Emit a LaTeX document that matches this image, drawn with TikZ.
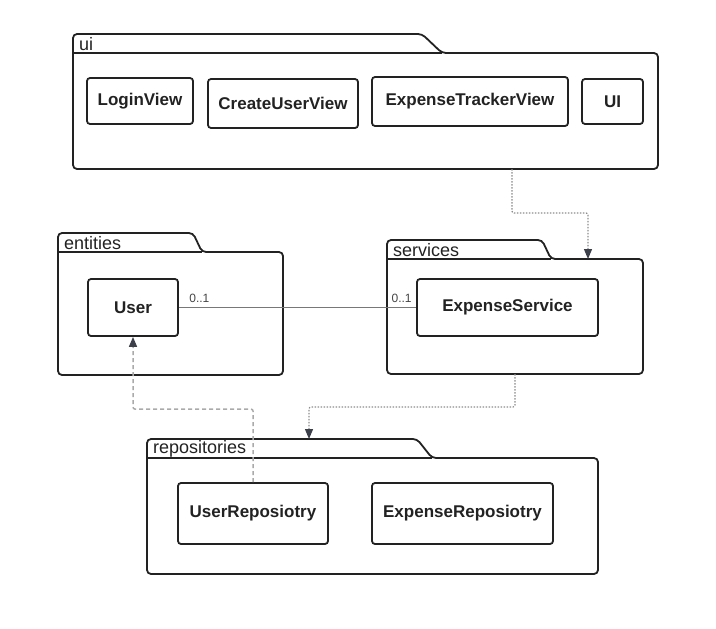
\documentclass[tikz,border=0pt]{standalone}
\usepackage{fontspec}
\setmainfont{Liberation Sans}
\usetikzlibrary{arrows.meta}

% Drawing a package: name, left, tab top, slope start, slope end, body top, right, bottom
\newcommand{\drawpackage}[8]{%
  \draw [pkgline] (#2,#6) -- (#2,#3) -- (#4,#3) -- (#5,#6) -- (#7,#6) -- (#7,#8) -- (#2,#8) -- cycle;%
  \draw [tabline] (#2,#6) -- (#5,#6);%
  \node [pkglabel] (#1-label) at (#2+6,{(#3+#6)/2+0.5}) {#1};%
}

\tikzset{
  classbox/.style={draw=r34g34b34, line width=1.8pt, rounded corners=3pt, inner sep=0pt,
    text=r34g34b34, font=\fontsize{17}{20}\selectfont\bfseries},
  pkgline/.style={draw=r34g34b34, line width=1.8pt, rounded corners=4pt},
  tabline/.style={draw=r34g34b34, line width=1.2pt},
  pkglabel/.style={anchor=west, inner sep=0pt, text=r34g34b34, font=\fontsize{18}{20}\selectfont},
  multlabel/.style={inner sep=0pt, text=r68g68b68, font=\fontsize{12}{14}\selectfont},
  assoc/.style={draw=r120g120b120, line width=0.9pt},
  dep/.style={draw=r140g140b140, line width=1.2pt, dash pattern=on 1.5pt off 1.5pt,
    rounded corners=2pt, -{Triangle[width=8pt,length=10pt,color=r59g64b75]}},
  depuse/.style={draw=r170g170b170, line width=1.5pt, dash pattern=on 4pt off 3pt,
    rounded corners=2pt, -{Triangle[width=8pt,length=10pt,color=r59g64b75]}}
}

\begin{document}
\begin{tikzpicture}[x=1pt,y=-1pt]
  % Changing colors
  \definecolor{r34g34b34}{rgb}{0.133333,0.133333,0.133333}%
  \definecolor{r68g68b68}{rgb}{0.266667,0.266667,0.266667}%
  \definecolor{r120g120b120}{rgb}{0.470588,0.470588,0.470588}%
  \definecolor{r140g140b140}{rgb}{0.549020,0.549020,0.549020}%
  \definecolor{r170g170b170}{rgb}{0.666667,0.666667,0.666667}%
  \definecolor{r59g64b75}{rgb}{0.231373,0.250980,0.294118}%

  \useasboundingbox (0,0) rectangle (716,629);

  % Drawing packages
  \drawpackage{ui}{73}{34}{422}{442}{53}{658}{169}
  \drawpackage{entities}{58}{233}{193}{202}{252}{283}{375}
  \drawpackage{services}{387}{240}{542}{551}{259}{643}{374}
  \drawpackage{repositories}{147}{439}{417}{432}{458}{598}{574}

  % Package ports for connectors
  \coordinate (ui-out) at (512,169);
  \coordinate (services-in) at (588,259);
  \coordinate (services-out) at (515,374);
  \coordinate (repositories-in) at (309,439);

  % Classes in ui
  \node [classbox, minimum width=106, minimum height=46] (LoginView) at (140,101) {LoginView};
  \node [classbox, minimum width=150, minimum height=49] (CreateUserView) at (283,103.5) {CreateUserView};
  \node [classbox, minimum width=196, minimum height=49] (ExpenseTrackerView) at (470,101.5) {ExpenseTrackerView};
  \node [classbox, minimum width=61, minimum height=45] (UI) at (612.5,101.5) {UI};

  % Classes in entities and services
  \node [classbox, minimum width=90, minimum height=57] (User) at (133,307.5) {User};
  \node [classbox, minimum width=181, minimum height=57] (ExpenseService) at (507.5,307.5) {ExpenseService};

  % Classes in repositories
  \node [classbox, minimum width=150, minimum height=61] (UserRepository) at (253,513.5) {UserReposiotry};
  \node [classbox, minimum width=181, minimum height=61] (ExpenseRepository) at (462.5,513.5) {ExpenseReposiotry};

  % Association User -- ExpenseService
  \draw [assoc] (User.east) -- (ExpenseService.west)
    node [multlabel, pos=0, anchor=south west, xshift=10, yshift=4] (user-mult) {0..1}
    node [multlabel, pos=1, anchor=south east, xshift=-4, yshift=4] (service-mult) {0..1};

  % Dependencies
  \draw [dep] (ui-out) -- ++(0,44) -| (services-in);
  \draw [dep] (services-out) -- ++(0,33) -| (repositories-in);
  \draw [depuse] (UserRepository.north) -- ++(0,-73) -| (User.south);
\end{tikzpicture}
\end{document}
